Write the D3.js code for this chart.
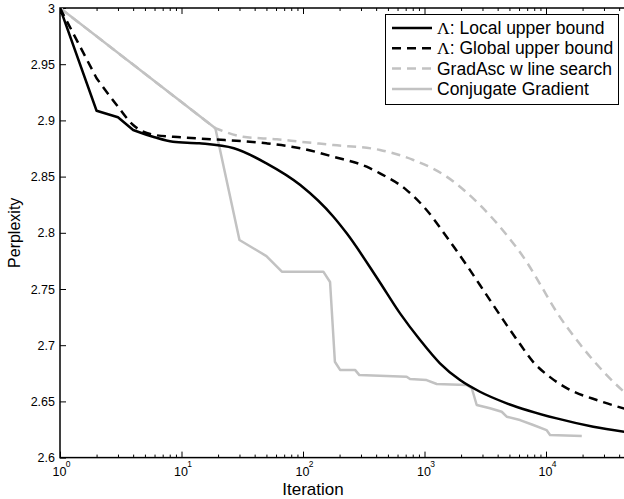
<!DOCTYPE html>
<html>
<head>
<meta charset="utf-8">
<script src="https://cdnjs.cloudflare.com/ajax/libs/d3/7.8.5/d3.min.js"></script>
<style>
  body { margin: 0; background: #fff; }
  svg { display: block; font-family: "Liberation Sans", Arial, sans-serif; }
</style>
</head>
<body>
<svg id="chart" width="624" height="499"></svg>
<script>
// values
const localIter = [1, 2, 3, 4, 6, 8.5, 14, 27, 50, 95, 178, 229, 417, 629, 920, 1340, 1960, 2860, 4750, 12250, 24500, 50000];
const localPerp = [3, 2.9086, 2.9028, 2.8915, 2.885, 2.881, 2.8796, 2.8752, 2.8618, 2.8425, 2.8143, 2.7995, 2.758, 2.7283, 2.7046, 2.6839, 2.669, 2.6586, 2.6483, 2.6349, 2.6275, 2.6222];

const globalIter = [1, 2, 3, 4, 6, 10, 16, 50, 95, 178, 334, 430, 713, 1040, 1520, 2220, 2860, 3680, 4750, 6110, 7860, 10800, 14800, 27800, 50000];
const globalPerp = [3, 2.9375, 2.9122, 2.8959, 2.887, 2.885, 2.8835, 2.8796, 2.8752, 2.8677, 2.8588, 2.8529, 2.838, 2.8203, 2.7965, 2.7713, 2.7535, 2.7357, 2.7179, 2.701, 2.685, 2.6716, 2.6618, 2.6503, 2.6419];

const gradIter = [1, 19, 32, 61, 95, 178, 430, 810, 1520, 2860, 4750, 6940, 8930, 12250, 19000, 31600, 50000];
const gradPerp = [3, 2.893, 2.8855, 2.8832, 2.881, 2.8781, 2.8737, 2.8648, 2.85, 2.8247, 2.798, 2.774, 2.7544, 2.7294, 2.701, 2.6734, 2.6529];

const cgIter = [1, 19, 30, 50, 67, 147, 167, 183, 202, 268, 291, 713, 760, 1040, 1260, 2220, 2450, 2690, 3460, 4320, 4750, 6110, 7860, 10100, 10800, 19700];
const cgPerp = [3, 2.893, 2.7936, 2.7793, 2.7654, 2.7654, 2.7562, 2.6853, 2.678, 2.678, 2.6734, 2.6719, 2.6699, 2.669, 2.6655, 2.6646, 2.6617, 2.6468, 2.6439, 2.6408, 2.6364, 2.6334, 2.629, 2.6245, 2.6201, 2.6192];

const xMajor = [1, 10, 100, 1000, 10000];
const yTicks = [2.6, 2.65, 2.7, 2.75, 2.8, 2.85, 2.9, 2.95, 3];

// smoothFrom: index after which the curve is drawn smooth (-1 = straight segments only)
const series = [
    {name: "Λ", label: ": Local upper bound", iter: localIter, perp: localPerp, color: "#000", dash: null, smoothFrom: 3},
    {name: "Λ", label: ": Global upper bound", iter: globalIter, perp: globalPerp, color: "#000", dash: "9,6", smoothFrom: 1},
    {name: "", label: "GradAsc w line search", iter: gradIter, perp: gradPerp, color: "#c2c2c2", dash: "9,6", smoothFrom: 1},
    {name: "", label: "Conjugate Gradient", iter: cgIter, perp: cgPerp, color: "#c2c2c2", dash: null, smoothFrom: -1},
];

const svg = d3.select("#chart");
const plotLeft = 60, plotTop = 8, plotBottom = 457.6;

const x = d3.scaleLog().domain([1, 5e4]).range([plotLeft, plotLeft + 121.5 * Math.log10(5e4)]);
const y = d3.scaleLinear().domain([2.6, 3]).range([plotBottom, plotTop]);
const plotRight = x.range()[1];

svg.append("clipPath").attr("id", "plotClip")
    .append("rect").attr("x", plotLeft).attr("y", plotTop)
    .attr("width", plotRight - plotLeft).attr("height", plotBottom - plotTop);

// minor ticks for log axis
const xMinor = [];
xMajor.forEach(d => { for (let k = 2; k <= 9; k++) if (d * k <= 5e4) xMinor.push(d * k); });

const axisStyle = g => {
    g.select(".domain").remove();
    g.selectAll("line").attr("stroke", "#000").attr("stroke-width", 1);
};

svg.append("g").attr("transform", `translate(0,${plotBottom})`)
    .call(d3.axisBottom(x).tickValues(xMinor).tickSize(-3).tickFormat(""))
    .call(axisStyle);
svg.append("g").attr("transform", `translate(0,${plotTop})`)
    .call(d3.axisTop(x).tickValues(xMinor).tickSize(-3).tickFormat(""))
    .call(axisStyle);

const xBottom = svg.append("g").attr("transform", `translate(0,${plotBottom})`)
    .call(d3.axisBottom(x).tickValues(xMajor).tickSize(-6).tickFormat(""))
    .call(axisStyle);
svg.append("g").attr("transform", `translate(0,${plotTop})`)
    .call(d3.axisTop(x).tickValues(xMajor).tickSize(-6).tickFormat(""))
    .call(axisStyle);

xBottom.selectAll(".tick").append("text")
    .attr("x", -1).attr("y", 18).attr("text-anchor", "middle").attr("fill", "#000")
    .attr("font-size", 12.5).text("10");
xBottom.selectAll(".tick").append("text")
    .attr("x", 7.5).attr("y", 9.5).attr("fill", "#000")
    .attr("font-size", 8.5).text(d => Math.round(Math.log10(d)));

svg.append("g").attr("transform", `translate(${plotLeft},0)`)
    .call(d3.axisLeft(y).tickValues(yTicks).tickSize(-6).tickPadding(5).tickFormat(d3.format("~g")))
    .call(axisStyle)
    .selectAll("text").attr("font-size", 12.5).attr("fill", "#000").attr("font-family", "Liberation Sans, Arial, sans-serif");
svg.append("g").attr("transform", `translate(${plotRight},0)`)
    .call(d3.axisRight(y).tickValues(yTicks).tickSize(-6).tickFormat(""))
    .call(axisStyle);

// box
svg.append("rect")
    .attr("x", plotLeft).attr("y", plotTop).attr("width", plotRight - plotLeft).attr("height", plotBottom - plotTop)
    .attr("fill", "none").attr("stroke", "#000").attr("stroke-width", 1.5);

const straight = d3.line().x(d => x(d[0])).y(d => y(d[1]));
const smooth = d3.line().x(d => x(d[0])).y(d => y(d[1])).curve(d3.curveMonotoneX);

// straight segments up to smoothFrom, then a monotone curve, joined into one path
function pathFor(s) {
    const pts = d3.zip(s.iter, s.perp);
    if (s.smoothFrom < 0) return straight(pts);
    const head = straight(pts.slice(0, s.smoothFrom + 1));
    const tail = smooth(pts.slice(s.smoothFrom)).replace(/^M[-\d.,e]+/, "");
    return head + tail;
}

const curves = svg.append("g").attr("clip-path", "url(#plotClip)");
series.slice().reverse().forEach(s => {
    curves.append("path")
        .attr("d", pathFor(s))
        .attr("fill", "none")
        .attr("stroke", s.color)
        .attr("stroke-width", 2.5)
        .attr("stroke-dasharray", s.dash)
        .attr("stroke-linejoin", "round");
});

// legend
const legend = svg.append("g");
legend.append("rect")
    .attr("x", 385.5).attr("y", 14.5).attr("width", 233).attr("height", 90)
    .attr("fill", "#fff").attr("stroke", "#000").attr("stroke-width", 1);

series.forEach((s, i) => {
    const ly = 28 + i * 20.3;
    legend.append("line")
        .attr("x1", 392).attr("x2", 432).attr("y1", ly).attr("y2", ly)
        .attr("stroke", s.color).attr("stroke-width", 2.5).attr("stroke-dasharray", s.dash);
    const t = legend.append("text")
        .attr("x", 437).attr("y", ly + 6).attr("font-size", 17.5).attr("fill", "#000");
    if (s.name) t.append("tspan").attr("font-family", "Liberation Serif, serif").text(s.name);
    t.append("tspan").text(s.label);
});

svg.append("text")
    .attr("x", 313).attr("y", 495)
    .attr("text-anchor", "middle").attr("font-size", 17).text("Iteration");

svg.append("text")
    .attr("transform", `translate(20,${(plotTop + plotBottom) / 2}) rotate(-90)`)
    .attr("text-anchor", "middle").attr("font-size", 16).text("Perplexity");
</script>
</body>
</html>
